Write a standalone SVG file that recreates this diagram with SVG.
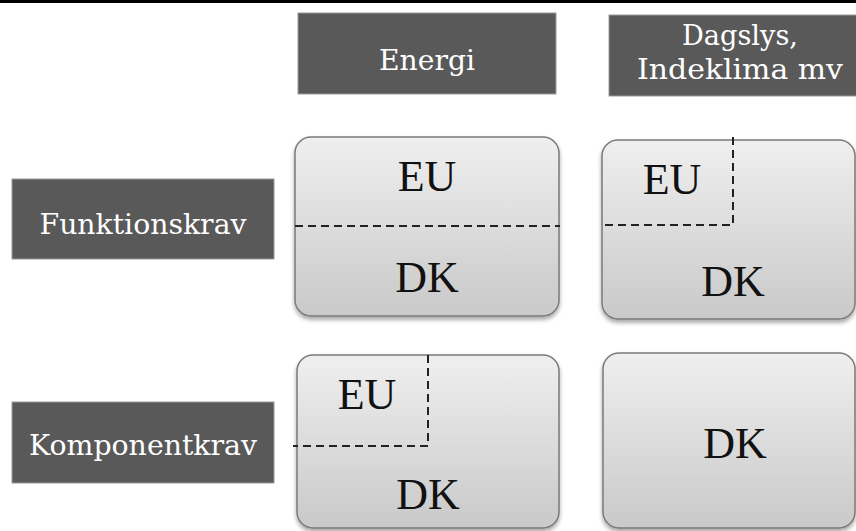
<svg xmlns="http://www.w3.org/2000/svg" width="856" height="531" viewBox="0 0 856 531">
<defs>
<linearGradient id="g" x1="0" y1="0" x2="0" y2="1">
<stop offset="0" stop-color="#efefef"/>
<stop offset="1" stop-color="#c9c9c9"/>
</linearGradient>
<filter id="sh" x="-5%" y="-5%" width="110%" height="115%">
<feDropShadow dx="0" dy="3" stdDeviation="2" flood-color="#000" flood-opacity="0.35"/>
</filter>
</defs>
<style>
.hdr{fill:#595959;stroke:#9a9a9a;stroke-width:1}
.ht{font-family:"DejaVu Serif","Liberation Serif",serif;font-size:28px;fill:#ffffff;text-anchor:middle}
.box{fill:url(#g);stroke:#7a7a7a;stroke-width:1.5;filter:url(#sh)}
.bt{font-family:"Liberation Serif",serif;font-size:44px;fill:#111111;text-anchor:middle}
.dash{fill:none;stroke:#222222;stroke-width:2;stroke-dasharray:8,5}
</style>
<rect x="0" y="0" width="856" height="531" fill="#ffffff"/>
<rect x="0" y="0" width="856" height="3" fill="#000000"/>
<g id="col-energi">
<rect class="hdr" x="298" y="13" width="258" height="81"/>
<text class="ht" x="427" y="70" textLength="96" lengthAdjust="spacingAndGlyphs">Energi</text>
</g>
<g id="col-dagslys">
<rect class="hdr" x="609" y="15" width="262" height="81"/>
<text class="ht" x="740" y="45" textLength="116" lengthAdjust="spacingAndGlyphs">Dagslys,</text>
<text class="ht" x="740" y="79" textLength="206" lengthAdjust="spacingAndGlyphs">Indeklima mv</text>
</g>
<g id="row-funktion">
<rect class="hdr" x="12" y="179" width="262" height="80"/>
<text class="ht" x="143" y="234" textLength="207" lengthAdjust="spacingAndGlyphs">Funktionskrav</text>
</g>
<g id="row-komponent">
<rect class="hdr" x="12" y="402" width="262" height="81"/>
<text class="ht" x="143" y="455" textLength="228" lengthAdjust="spacingAndGlyphs">Komponentkrav</text>
</g>
<g id="cell-energi-funktion">
<rect class="box" x="295" y="137" width="264" height="179" rx="16"/>
<text class="bt" x="427" y="191">EU</text>
<text class="bt" x="427" y="292">DK</text>
</g>
<g id="cell-dagslys-funktion">
<rect class="box" x="602" y="140" width="253" height="179" rx="16"/>
<text class="bt" x="672" y="194">EU</text>
<text class="bt" x="733" y="296">DK</text>
</g>
<g id="cell-energi-komponent">
<rect class="box" x="297" y="355" width="262" height="173" rx="16"/>
<text class="bt" x="367" y="409">EU</text>
<text class="bt" x="428" y="509">DK</text>
</g>
<g id="cell-dagslys-komponent">
<rect class="box" x="603" y="353" width="252" height="175" rx="16"/>
<text class="bt" x="735" y="458">DK</text>
</g>
<g id="connectors">
<path class="dash" d="M295 226 H560"/>
<path class="dash" d="M733 137 V225 H602"/>
<path class="dash" d="M428 355 V446 H293"/>
</g>
</svg>
